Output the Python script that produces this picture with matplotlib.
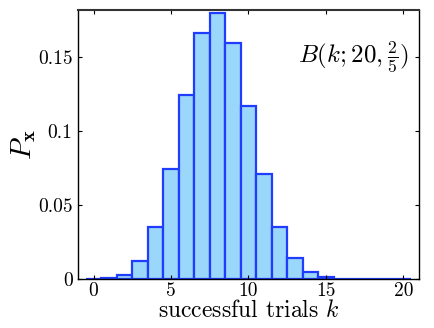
import matplotlib
matplotlib.use("Agg")
import matplotlib.pyplot as plt

k_values = list(range(21))
probabilities = [0.0000366, 0.000487, 0.00309, 0.01235, 0.03499, 0.07465,
                 0.12441, 0.16588, 0.17971, 0.15974, 0.11714, 0.07099,
                 0.03550, 0.01456, 0.00485, 0.00129, 0.00027, 0.0000423,
                 0.0000047, 0.0000003, 0.00000001]
x_ticks = [0, 5, 10, 15, 20]
y_ticks = [0, 0.05, 0.1, 0.15]
y_ticklabels = ["0", "0.05", "0.1", "0.15"]

plt.rcParams['font.family'] = 'serif'
plt.rcParams['font.serif'] = ['cmr10', 'DejaVu Serif']
plt.rcParams['mathtext.fontset'] = 'cm'
plt.rcParams['axes.unicode_minus'] = False

fig = plt.figure(figsize=(4.34, 3.28), dpi=100)
ax = fig.add_axes([0.180, 0.149, 0.785, 0.821])

ax.bar(k_values, probabilities, width=1.0, color='#9ad7fa',
       edgecolor='#1f3cff', linewidth=1.6)

ax.set_xlim(-1, 21)
ax.set_ylim(0, 0.1818)
ax.set_xticks(x_ticks)
ax.set_xticklabels([str(t) for t in x_ticks])
ax.set_yticks(y_ticks)
ax.set_yticklabels(y_ticklabels)
ax.tick_params(direction='in', top=True, right=True, labelsize=14,
               length=3, width=0.8, pad=4)
ax.tick_params(axis='x', pad=2)

for s in ax.spines.values():
    s.set_linewidth(1.0)
    s.set_color('black')
ax.spines['top'].set_color('#333333')
ax.spines['top'].set_linewidth(1.5)

ax.set_xlabel(r'successful trials $k$', fontsize=17, labelpad=0)
ax.set_ylabel(r'$P_{\mathbf{x}}$', fontsize=21, labelpad=0)

ax.text(0.968, 0.825, r'$B(k;20,\frac{2}{5})$', transform=ax.transAxes,
        ha='right', va='center', fontsize=18)

fig.savefig('out.png', dpi=100)
